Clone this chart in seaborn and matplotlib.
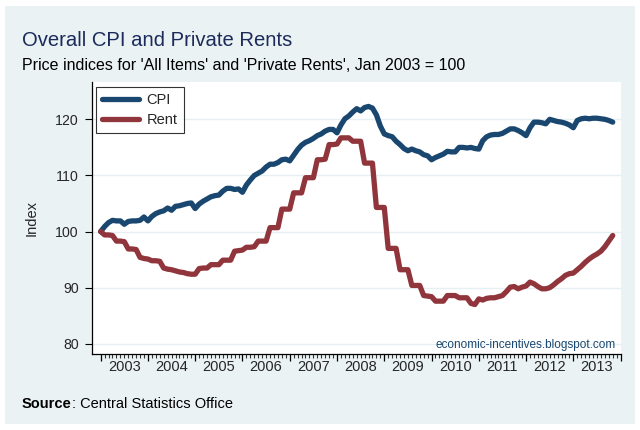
import numpy as np
import pandas as pd
import matplotlib
matplotlib.use("Agg")
import matplotlib.pyplot as plt
from matplotlib.patches import Rectangle
import seaborn as sns

# ---- data (monthly, Jan 2003 = month 0) ----
years = ["2003", "2004", "2005", "2006", "2007", "2008", "2009",
         "2010", "2011", "2012", "2013"]

cpi = [
    100.0, 100.9, 101.6, 102.0, 101.9, 101.9, 101.3, 101.8, 101.9, 101.9, 102.0, 102.6,  # 2003
    101.9, 102.7, 103.2, 103.5, 103.7, 104.2, 103.8, 104.5, 104.6, 104.8, 105.0, 105.1,  # 2004
    104.1, 104.9, 105.4, 105.8, 106.2, 106.4, 106.5, 107.2, 107.7, 107.7, 107.5, 107.6,  # 2005
    107.0, 108.3, 109.2, 110.0, 110.4, 110.8, 111.5, 112.0, 112.0, 112.3, 112.8, 112.9,  # 2006
    112.6, 113.6, 114.6, 115.4, 115.9, 116.2, 116.6, 117.1, 117.4, 117.9, 118.2, 118.2,  # 2007
    117.6, 119.0, 120.1, 120.6, 121.3, 121.9, 121.5, 122.1, 122.3, 122.0, 120.8, 118.8,  # 2008
    117.4, 117.1, 116.9, 116.1, 115.5, 114.8, 114.4, 114.7, 114.4, 114.2, 113.7, 113.5,  # 2009
    112.8, 113.2, 113.5, 113.8, 114.3, 114.2, 114.2, 115.0, 115.0, 114.9, 115.0, 114.8,  # 2010
    114.7, 116.2, 116.9, 117.2, 117.3, 117.3, 117.5, 117.9, 118.3, 118.3, 118.0, 117.6,  # 2011
    117.1, 118.5, 119.5, 119.5, 119.4, 119.2, 120.0, 119.8, 119.6, 119.5, 119.3, 119.0,  # 2012
    118.5, 119.8, 120.1, 120.2, 120.1, 120.2, 120.2, 120.1, 120.0, 119.8, 119.5,         # 2013
]

rent = [
    100.0, 99.4, 99.4, 99.3, 98.3, 98.3, 98.2, 96.9, 96.9, 96.8, 95.4, 95.2,             # 2003
    95.1, 94.8, 94.8, 94.7, 93.5, 93.3, 93.2, 93.0, 92.8, 92.7, 92.5, 92.4,              # 2004
    92.4, 93.4, 93.5, 93.5, 94.1, 94.1, 94.1, 94.9, 94.9, 94.9, 96.5, 96.6,              # 2005
    96.7, 97.2, 97.2, 97.3, 98.3, 98.3, 98.3, 100.7, 100.7, 100.7, 104.0, 104.0,         # 2006
    104.0, 106.9, 106.9, 106.9, 109.6, 109.6, 109.6, 112.8, 112.8, 112.9, 115.5, 115.5,  # 2007
    115.6, 116.7, 116.7, 116.7, 116.1, 116.1, 116.1, 112.2, 112.2, 112.2, 104.3, 104.3,  # 2008
    104.3, 97.0, 97.0, 97.0, 93.2, 93.2, 93.2, 90.4, 90.4, 90.4, 88.6, 88.5,             # 2009
    88.4, 87.6, 87.6, 87.6, 88.6, 88.6, 88.6, 88.2, 88.2, 88.2, 87.2, 87.0,              # 2010
    88.0, 87.8, 88.1, 88.2, 88.2, 88.4, 88.6, 89.3, 90.1, 90.2, 89.8, 90.1,              # 2011
    90.3, 91.0, 90.7, 90.2, 89.8, 89.8, 90.0, 90.5, 91.1, 91.6, 92.2, 92.5,              # 2012
    92.6, 93.2, 93.8, 94.5, 95.1, 95.6, 96.0, 96.5, 97.3, 98.3, 99.3,                    # 2013
]

series_names = ["CPI", "Rent"]
y_ticks = [80, 90, 100, 110, 120]

months = np.arange(len(cpi))
df = pd.DataFrame({
    "month": np.concatenate([months, months]),
    "value": cpi + rent,
    "series": [series_names[0]] * len(cpi) + [series_names[1]] * len(rent),
})

# ---- style ----
sns.set_style("white")
plt.rcParams["font.family"] = ["Liberation Sans", "DejaVu Sans"]

BG = "#EAF2F3"
NAVY = "#1A476F"
MAROON = "#90353B"
W, H = 640, 430

fig = plt.figure(figsize=(6.4, 4.3), dpi=100, facecolor="white")
fig.patches.append(Rectangle((5 / W, 1 - 424 / H), (635 - 5) / W, (424 - 6) / H,
                             transform=fig.transFigure, facecolor=BG,
                             edgecolor="none", zorder=-10))

ax = fig.add_axes([92 / W, 1 - 353.5 / H, (621 - 92) / W, (353.5 - 82.3) / H])
ax.set_facecolor("white")

sns.lineplot(data=df, x="month", y="value", hue="series",
             palette={"CPI": NAVY, "Rent": MAROON}, linewidth=3.8,
             ax=ax, legend=True, solid_capstyle="round", solid_joinstyle="round")

ax.set_xlim(-2.2, 132.1)
ax.set_ylim(78.27, 126.6)

# y axis
ax.set_yticks(y_ticks)
ax.set_yticklabels([str(v) for v in y_ticks])
ax.tick_params(axis="y", length=5, width=0.8, color="black", labelsize=10.2, pad=4.5,
               left=True)
ax.grid(axis="y", color="#E6EFF1", linewidth=1.0)
ax.set_axisbelow(True)
ax.set_ylabel("Index", fontsize=10.5)
ax.yaxis.set_label_coords(-0.100, 0.5)
ax.set_xlabel("")

# x axis: year-start major ticks, monthly minor ticks, labels mid-year
year_starts = np.arange(0, 12 * len(years) + 1, 12)
ax.set_xticks(year_starts)
ax.set_xticklabels([""] * len(year_starts))
ax.set_xticks(np.arange(0, 132), minor=True)
ax.tick_params(axis="x", which="major", length=5, width=0.9, color="black", bottom=True)
ax.tick_params(axis="x", which="minor", length=2.8, width=0.8, color="#333333", bottom=True)

sec = ax.secondary_xaxis("bottom")
sec.set_xticks(year_starts[:-1] + 6)
sec.set_xticklabels(years)
sec.tick_params(length=0, labelsize=10.5, pad=5)
sec.spines["bottom"].set_visible(False)

for s in ["top", "right"]:
    ax.spines[s].set_visible(False)
for s in ["left", "bottom"]:
    ax.spines[s].set_color("black")
    ax.spines[s].set_linewidth(0.9)

leg = ax.legend(loc="upper left", bbox_to_anchor=(4 / 529, 1 - 4.7 / 271.2),
                borderaxespad=0, frameon=True,
                fancybox=False, edgecolor="black", fontsize=10.5, handlelength=2.5,
                borderpad=0.42, labelspacing=0.4, handletextpad=0.55, title=None)
leg.get_frame().set_linewidth(0.8)
for h in leg.legend_handles:
    h.set_linewidth(3.8)
    h.set_solid_capstyle("round")

ax.text(0.99, 0.03, "economic-incentives.blogspot.com", transform=ax.transAxes,
        ha="right", va="center", fontsize=8.5, color=NAVY)

fig.text(22 / W, 1 - 45.5 / H, "Overall CPI and Private Rents", fontsize=14.6,
         color="#1C2B5A", ha="left", va="baseline")
fig.text(22 / W, 1 - 70 / H,
         "Price indices for 'All Items' and 'Private Rents', Jan 2003 = 100",
         fontsize=11.5, color="black", ha="left", va="baseline")

src_bold = fig.text(22 / W, 1 - 408 / H, "Source", fontsize=10.5, fontweight="bold",
                    color="black", ha="left", va="baseline")
fig.canvas.draw()
bb = src_bold.get_window_extent(renderer=fig.canvas.get_renderer())
fig.text(bb.x1 / W, 1 - 408 / H, ": Central Statistics Office", fontsize=10.5,
         color="black", ha="left", va="baseline")

fig.savefig("out.png", dpi=100, facecolor="white")
